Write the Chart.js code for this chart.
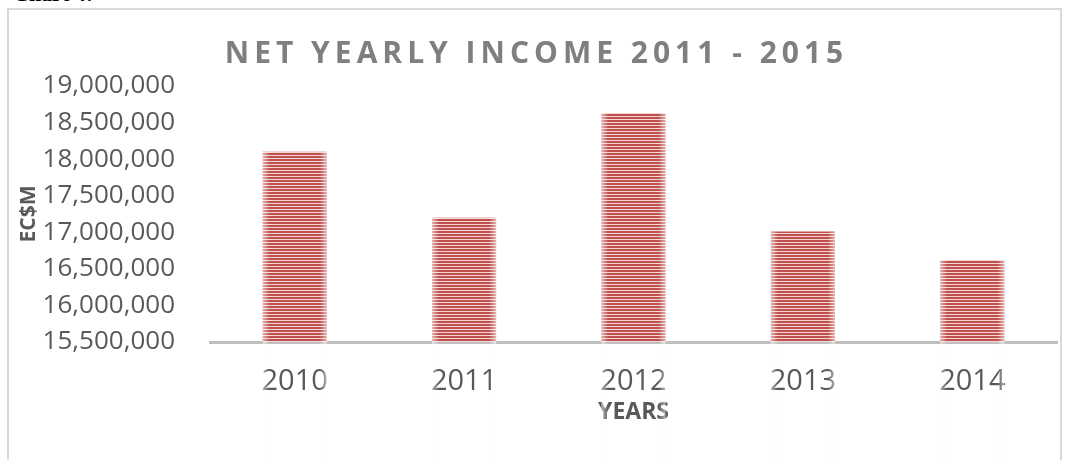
<!DOCTYPE html>
<html>
<head>
<meta charset="utf-8">
<script src="https://cdn.jsdelivr.net/npm/chart.js@4.4.1/dist/chart.umd.min.js"></script>
<style>
  html, body { margin: 0; padding: 0; background: #fff; overflow: hidden; }
  #wrap { position: relative; width: 1067px; height: 460px; }
  #frame { position: absolute; left: 7px; top: 8px; width: 1055px; height: 480px; border: 2px solid #d9d9d9; box-sizing: border-box; }
  #hdr { position: absolute; left: 13px; top: -19px; font: bold 22px "Liberation Serif", serif; color: #000; }
  canvas { position: absolute; left: 0; top: 0; }
</style>
</head>
<body>
<div id="wrap">
  <div id="hdr">Chart 4:</div>
  <div id="frame"></div>
  <canvas id="c" width="1067" height="460"></canvas>
</div>
<script>
const categories = ["2010", "2011", "2012", "2013", "2014"];
const netIncome = [18100000, 17200000, 18630000, 17010000, 16620000];
const yMin = 15500000;
const yMax = 19000000;
const yStep = 500000;
const chartTitle = "NET YEARLY INCOME 2011 - 2015";
const yTitle = "EC$M";
const xTitle = "YEARS";

// striped fill pattern
const pc = document.createElement('canvas');
pc.width = 4; pc.height = 3;
const px = pc.getContext('2d');
px.fillStyle = '#c0504d'; px.fillRect(0, 0, 4, 2);
px.fillStyle = '#f3d6d5'; px.fillRect(0, 2, 4, 1);
const ctx = document.getElementById('c').getContext('2d');
const stripe = ctx.createPattern(pc, 'repeat');

const edgeGlow = {
  id: 'edgeGlow',
  afterDatasetsDraw(chart) {
    const c = chart.ctx;
    chart.getDatasetMeta(0).data.forEach(b => {
      const l = b.x - b.width / 2, r = b.x + b.width / 2, t = b.y, h = b.base - b.y;
      c.save();
      let g = c.createLinearGradient(l, 0, l + 7, 0);
      g.addColorStop(0, 'rgba(255,255,255,0.55)'); g.addColorStop(1, 'rgba(255,255,255,0)');
      c.fillStyle = g; c.fillRect(l, t, 7, h);
      g = c.createLinearGradient(r, 0, r - 7, 0);
      g.addColorStop(0, 'rgba(255,255,255,0.55)'); g.addColorStop(1, 'rgba(255,255,255,0)');
      c.fillStyle = g; c.fillRect(r - 7, t, 7, h);
      c.restore();
    });
  }
};

const chart = new Chart(ctx, {
  type: 'bar',
  data: {
    labels: categories,
    datasets: [{
      data: netIncome,
      backgroundColor: stripe,
      borderWidth: 0,
      categoryPercentage: 1.0,
      barPercentage: 0.378
    }]
  },
  plugins: [edgeGlow],
  options: {
    responsive: false,
    animation: false,
    devicePixelRatio: 1,
    layout: { padding: { left: 16, right: 10, top: 0, bottom: 0 } },
    plugins: {
      legend: { display: false },
      tooltip: { enabled: false },
      title: {
        display: true,
        text: chartTitle,
        color: '#7f7f7f',
        font: { family: 'Open Sans', size: 30, weight: 'bold' },
        padding: { top: 36, bottom: 14 }
      }
    },
    scales: {
      x: {
        grid: { display: false, drawTicks: false },
        border: { display: true, color: '#bfbfbf', width: 3 },
        ticks: { color: '#595959', font: { family: 'Open Sans', size: 29 }, padding: 22 },
        title: { display: true, text: xTitle, color: '#595959', font: { family: 'Open Sans', size: 23, weight: 'bold' }, padding: { top: 0, bottom: 34 } },
        afterFit(s) { s.height = 118; }
      },
      y: {
        min: yMin, max: yMax,
        grid: { display: false, drawTicks: false },
        border: { display: false },
        ticks: {
          stepSize: yStep,
          color: '#595959',
          font: { family: 'Open Sans', size: 26 },
          padding: 35,
          callback: v => Number(v).toLocaleString('en-US')
        },
        title: { display: true, text: yTitle, color: '#595959', font: { family: 'Open Sans', size: 21, weight: 'bold' }, padding: { top: 0, bottom: 0 } },
        afterFit(s) { s.width = 194; }
      }
    }
  }
});

// letter-spaced title
const tb = chart.titleBlock;
if (tb) {
  const orig = tb.draw.bind(tb);
  tb.draw = function () { const c = chart.ctx; c.save(); c.letterSpacing = '5px'; orig(); c.restore(); };
  chart.draw();
}
</script>
</body>
</html>
